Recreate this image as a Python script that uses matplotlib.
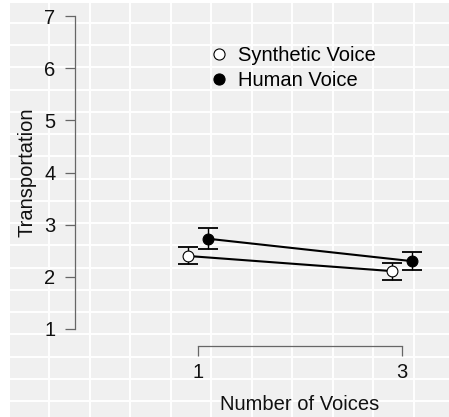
import numpy as np
import matplotlib.pyplot as plt
from matplotlib.lines import Line2D
import matplotlib.transforms as mtransforms

plt.rcParams['font.family'] = ['Liberation Sans', 'DejaVu Sans']

# data
voices = [1, 3]
synthetic_mean = [2.40, 2.11]
synthetic_lo = [2.25, 1.94]
synthetic_hi = [2.58, 2.26]
human_mean = [2.73, 2.30]
human_lo = [2.53, 2.13]
human_hi = [2.94, 2.47]
dodge = 0.1
fs = 14.5

W, H = 449, 417
fig = plt.figure(figsize=(W / 100, H / 100), dpi=100)
fig.patch.set_facecolor('white')

# page-like grey grid background
bg = fig.add_axes([10 / W, 0, 1 - 10 / W, (H - 3) / H], zorder=0)
bg.set_facecolor('#f0f0f0')
bg.set_xlim(0, W - 10)
bg.set_ylim(H - 3, 0)
bg.set_xticks(np.arange(39, W - 10, 40.5))
bg.set_yticks(np.arange(20, H - 3, 22.24))
bg.grid(True, color='white', linewidth=1.4)
bg.tick_params(length=0, labelbottom=False, labelleft=False)
for s in bg.spines.values():
    s.set_visible(False)

# main axes placed in pixel terms
left_px, right_px, top_px, bottom_px = 75, 449, 10, 346
ax = fig.add_axes([left_px / W, (H - bottom_px) / H,
                   (right_px - left_px) / W, (bottom_px - top_px) / H], zorder=1)
ax.patch.set_alpha(0)
x_per_px = 2 / (402 - 198)
y_per_px = 6 / (329 - 16)
ax.set_xlim(1 - (198 - left_px) * x_per_px, 3 + (right_px - 402) * x_per_px)
ax.set_ylim(1 - (bottom_px - 329) * y_per_px, 7 + (16 - top_px) * y_per_px)

xs = np.array(voices, dtype=float)
xs_syn = xs - dodge
xs_hum = xs + dodge

for xv, m, lo, hi, fc in [(xs_syn, synthetic_mean, synthetic_lo, synthetic_hi, 'white'),
                          (xs_hum, human_mean, human_lo, human_hi, 'black')]:
    m = np.array(m)
    yerr = [m - np.array(lo), np.array(hi) - m]
    ax.plot(xv, m, color='black', linewidth=1.5, zorder=2)
    ax.errorbar(xv, m, yerr=yerr, fmt='none', ecolor='black', elinewidth=1.0,
                capsize=7.5, capthick=1.3, zorder=3)
    ax.plot(xv, m, 'o', markersize=7.8, markerfacecolor=fc,
            markeredgecolor='black', markeredgewidth=0.8, linestyle='none', zorder=4)

for s in ['top', 'right']:
    ax.spines[s].set_visible(False)
ax.spines['left'].set_bounds(1, 7)
ax.spines['bottom'].set_bounds(1, 3)
for s in ['left', 'bottom']:
    ax.spines[s].set_color('#666666')
    ax.spines[s].set_linewidth(0.9)

ax.set_yticks([1, 2, 3, 4, 5, 6, 7])
ax.set_xticks(voices)
ax.tick_params(axis='both', colors='#666666', labelcolor='#111111', labelsize=fs,
               length=7, width=0.9)
ax.tick_params(axis='y', pad=7)
ax.tick_params(axis='x', pad=5)

# axis titles
ax.text(27 / W, 4, 'Transportation', fontsize=fs, rotation=90, ha='center', va='center',
        color='#111111',
        transform=mtransforms.blended_transform_factory(fig.transFigure, ax.transData))
ax.text(2, (H - 405) / H, 'Number of Voices', fontsize=fs, ha='center', va='center',
        color='#111111',
        transform=mtransforms.blended_transform_factory(ax.transData, fig.transFigure))

handles = [Line2D([], [], marker='o', linestyle='none', markersize=8,
                  markerfacecolor='white', markeredgecolor='black', markeredgewidth=0.8),
           Line2D([], [], marker='o', linestyle='none', markersize=8,
                  markerfacecolor='black', markeredgecolor='black', markeredgewidth=0.8)]
ax.legend(handles, ['Synthetic Voice', 'Human Voice'], loc='upper left',
          bbox_to_anchor=(209 / W, (H - 46) / H), bbox_transform=fig.transFigure,
          frameon=False, fontsize=fs, handlelength=1.0, handletextpad=0.45,
          labelspacing=0.3, borderpad=0, borderaxespad=0)

fig.savefig('out.png', dpi=100)
